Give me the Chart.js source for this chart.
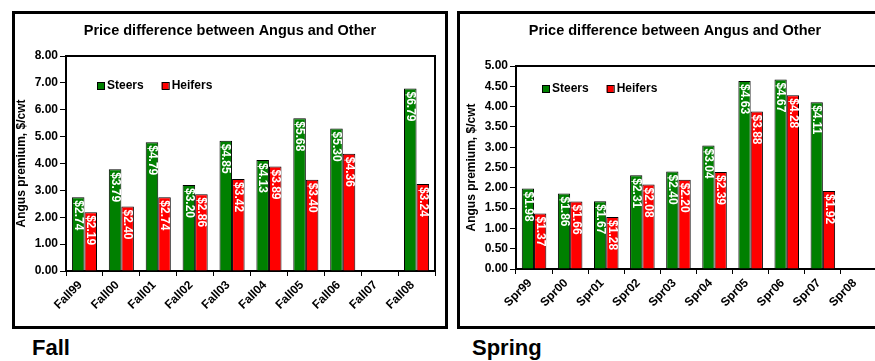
<!DOCTYPE html>
<html>
<head>
<meta charset="utf-8">
<script src="https://cdn.jsdelivr.net/npm/chart.js@4/dist/chart.umd.min.js"></script>
<style>
  html, body { margin: 0; padding: 0; background: #fff; width: 875px; height: 361px; overflow: hidden;
    font-family: "Liberation Sans", Arial, sans-serif; }
  .frame { position: absolute; border: 3px solid #000; box-sizing: border-box; }
  canvas { position: absolute; }
  .season { position: absolute; font-weight: bold; font-size: 22px; line-height: 22px; color: #000; white-space: nowrap; }
</style>
</head>
<body>
<div class="frame" style="left:12px;top:11px;width:436px;height:318px"></div>
<canvas id="fallChart" width="436" height="317" style="left:12px;top:11px;width:436px;height:317px"></canvas>
<div class="frame" style="left:457px;top:11px;width:436px;height:318px"></div>
<canvas id="springChart" width="436" height="317" style="left:457px;top:11px;width:436px;height:317px"></canvas>
<div class="season" style="left:32px;top:337px">Fall</div>
<div class="season" style="left:472px;top:337px">Spring</div>

<script>
// Angus premium over other breeds, $/cwt
const chartTitle = 'Price difference between Angus and Other';
const axisTitle = 'Angus premium, $/cwt';
const seriesNames = ['Steers', 'Heifers'];

const fallCategories = ['Fall99', 'Fall00', 'Fall01', 'Fall02', 'Fall03', 'Fall04', 'Fall05', 'Fall06', 'Fall07', 'Fall08'];
const fallSteers  = [2.74, 3.79, 4.79, 3.20, 4.85, 4.13, 5.68, 5.30, null, 6.79];
const fallHeifers = [2.19, 2.40, 2.74, 2.86, 3.42, 3.89, 3.40, 4.36, null, 3.24];
const fallAxis = { max: 8, step: 1 };

const springCategories = ['Spr99', 'Spr00', 'Spr01', 'Spr02', 'Spr03', 'Spr04', 'Spr05', 'Spr06', 'Spr07', 'Spr08'];
const springSteers  = [1.98, 1.86, 1.67, 2.31, 2.40, 3.04, 4.63, 4.67, 4.11, null];
const springHeifers = [1.37, 1.66, 1.28, 2.08, 2.20, 2.39, 3.88, 4.28, 1.92, null];
const springAxis = { max: 5, step: 0.5 };

const seriesColors = ['#008000', '#FF0000'];
const FONT = '"Liberation Sans", Arial, sans-serif';

Chart.defaults.font.family = FONT;
Chart.defaults.color = '#000';

// Plot box outline, vertical value labels inside each bar, and an in-plot legend
const plotExtras = {
  id: 'plotExtras',
  afterDatasetsDraw(chart) {
    const ctx = chart.ctx;
    ctx.save();
    ctx.fillStyle = '#fff';
    ctx.font = 'bold 12px ' + FONT;
    ctx.textAlign = 'left';
    ctx.textBaseline = 'middle';
    chart.data.datasets.forEach((ds, i) => {
      const meta = chart.getDatasetMeta(i);
      meta.data.forEach((bar, j) => {
        const v = ds.data[j];
        if (v == null) return;
        ctx.save();
        ctx.translate(bar.x, bar.y + 3);
        ctx.rotate(Math.PI / 2);
        ctx.fillText('$' + v.toFixed(2), 0, 0);
        ctx.restore();
      });
    });
    ctx.restore();
  },
  afterDraw(chart, args, opts) {
    const ctx = chart.ctx;
    const a = chart.chartArea;
    ctx.save();
    ctx.strokeStyle = '#000';
    ctx.lineWidth = 2;
    ctx.beginPath();
    ctx.moveTo(a.left, a.top);
    ctx.lineTo(a.right, a.top);
    ctx.lineTo(a.right, a.bottom);
    ctx.stroke();

    // legend
    ctx.font = 'bold 12px ' + FONT;
    ctx.textAlign = 'left';
    ctx.textBaseline = 'middle';
    let x = opts.x;
    const y = opts.y;
    chart.data.datasets.forEach((ds) => {
      ctx.fillStyle = ds.backgroundColor;
      ctx.fillRect(x, y - 3.5, 7, 7);
      ctx.lineWidth = 1;
      ctx.strokeStyle = '#000';
      ctx.strokeRect(x + 0.5, y - 3.5 + 0.5, 7, 7);
      ctx.fillStyle = '#000';
      ctx.fillText(ds.label, x + 10, y + 0.5);
      x += 10 + ctx.measureText(ds.label).width + opts.gap;
    });
    ctx.restore();
  }
};

function buildChart(id, categories, steers, heifers, axis, box) {
  return new Chart(document.getElementById(id), {
    type: 'bar',
    data: {
      labels: categories,
      datasets: [
        { label: seriesNames[0], data: steers, backgroundColor: seriesColors[0], borderColor: '#000', borderWidth: 1 },
        { label: seriesNames[1], data: heifers, backgroundColor: seriesColors[1], borderColor: '#000', borderWidth: 1 }
      ]
    },
    options: {
      responsive: false,
      animation: false,
      devicePixelRatio: 1,
      categoryPercentage: 0.68,
      barPercentage: 1,
      layout: { padding: 0 },
      plugins: {
        legend: { display: false },
        tooltip: { enabled: false },
        title: {
          display: true,
          text: chartTitle,
          color: '#000',
          font: { size: 14.5, weight: 'bold' },
          padding: { top: box.titleTop, bottom: box.titleBottom }
        },
        plotExtras: { x: box.legendX, y: box.legendY, gap: 18 }
      },
      scales: {
        x: {
          ticks: { color: '#000', font: { size: 12, weight: 'bold' }, minRotation: 45, maxRotation: 45,
                   autoSkip: false, padding: 2, labelOffset: -4 },
          grid: { drawOnChartArea: false, drawTicks: true, tickLength: 5, color: '#000', offset: true },
          border: { display: true, color: '#000', width: 2 },
          afterFit(s) { s.height = box.xHeight; }
        },
        y: {
          min: 0,
          max: axis.max,
          ticks: { stepSize: axis.step, color: '#000', font: { size: 12, weight: 'bold' }, padding: 2,
                   callback: (v) => Number(v).toFixed(2) },
          grid: { drawOnChartArea: false, drawTicks: true, tickLength: 6, color: '#000' },
          border: { display: true, color: '#000', width: 2 },
          title: { display: true, text: axisTitle, color: '#000', font: { size: 12, weight: 'bold' },
                   padding: { top: box.yTitlePad, bottom: 0 } },
          afterFit(s) { s.width = box.yWidth; }
        },
        spacer: {
          type: 'linear',
          position: 'right',
          display: true,
          ticks: { display: false },
          grid: { display: false, drawTicks: false },
          border: { display: false },
          afterFit(s) { s.width = box.rightWidth; }
        }
      }
    },
    plugins: [plotExtras]
  });
}

buildChart('fallChart', fallCategories, fallSteers, fallHeifers, fallAxis, {
  yWidth: 54, rightWidth: 13, titleTop: 11.3, titleBottom: 16.3, xHeight: 57, yTitlePad: 2.8,
  legendX: 85, legendY: 74.5
});
buildChart('springChart', springCategories, springSteers, springHeifers, springAxis, {
  yWidth: 59, rightWidth: 16, titleTop: 11.3, titleBottom: 26.3, xHeight: 59, yTitlePad: 7.5,
  legendX: 85, legendY: 77.5
});
</script>
</body>
</html>
